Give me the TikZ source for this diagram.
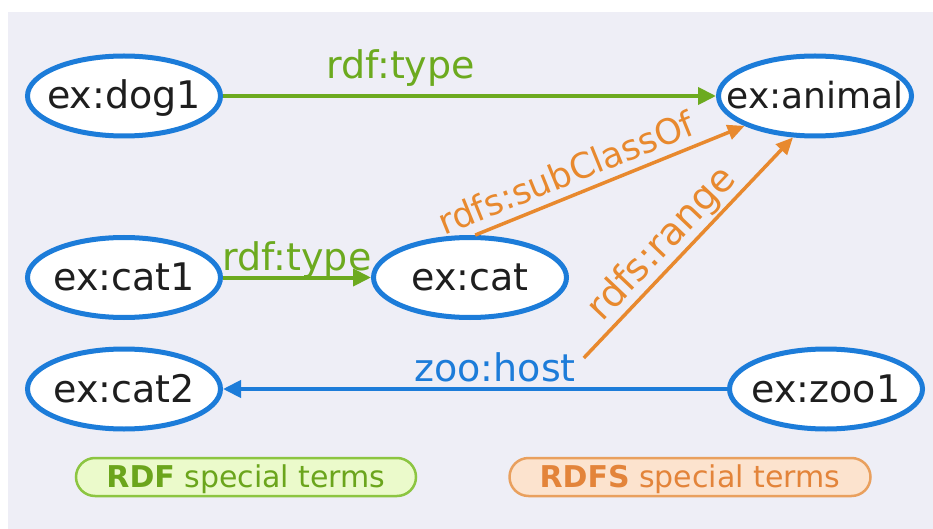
\documentclass[tikz,border=0pt]{standalone}
\usepackage{fontspec}
\setmainfont{DejaVu Sans}
\usetikzlibrary{shapes.geometric, arrows.meta, calc}
\definecolor{bgc}{HTML}{EEEEF6}
\definecolor{rdfblue}{HTML}{1C7CD9}
\definecolor{rdfgreen}{HTML}{6CAA1F}
\definecolor{rdfsorange}{HTML}{E8892E}
\definecolor{txt}{HTML}{1E1E1E}
\definecolor{gfill}{HTML}{EBFACB}
\definecolor{gline}{HTML}{8CC541}
\definecolor{gtext}{HTML}{6BA51C}
\definecolor{ofill}{HTML}{FCE3CE}
\definecolor{oline}{HTML}{E9A05E}
\definecolor{otext}{HTML}{E3843A}
\begin{document}
\begin{tikzpicture}[x=1pt,y=-1pt,
  ent/.style={ellipse, draw=rdfblue, line width=5pt, fill=white,
    minimum width=193pt, minimum height=80pt, inner sep=0pt,
    text height=26pt, text depth=0pt, text=txt,
    font=\fontsize{38}{44}\selectfont},
  lbl/.style={font=\fontsize{38}{44}\selectfont, anchor=south,
    text depth=0pt, inner ysep=#1, inner xsep=0pt},
  lbl/.default=5pt,
  greenarr/.style={draw=rdfgreen, line width=4pt,
    -{Triangle[length=18pt,width=17pt]}},
  orangearr/.style={draw=rdfsorange, line width=3.5pt,
    -{Triangle[length=17pt,width=15pt]}},
  bluearr/.style={draw=rdfblue, line width=4pt,
    -{Triangle[length=18pt,width=17pt]}},
  legbox/.style={rectangle, rounded corners=19pt, minimum height=38pt,
    line width=2.5pt, text height=21pt, text depth=0pt,
    font=\fontsize{30}{35}\selectfont}
]
\useasboundingbox (0,0) rectangle (933,529);
\fill[white] (0,0) rectangle (933,529);
\fill[bgc] (7.5,12) rectangle (933,529);

\node[ent] (dog1)   at (124,96)    {\makebox[0pt]{ex:dog1}};
\node[ent, font=\fontsize{36}{42}\selectfont] (animal) at (815,96) {\makebox[0pt]{ex:animal}};
\node[ent] (cat1)   at (124,277.5) {\makebox[0pt]{ex:cat1}};
\node[ent] (cat)    at (470,277.5) {\makebox[0pt]{ex:cat}};
\node[ent] (cat2)   at (124,389)   {\makebox[0pt]{ex:cat2}};
\node[ent] (zoo1)   at (826,389)   {\makebox[0pt]{ex:zoo1}};

\draw[greenarr] (dog1) -- node[lbl=15pt, pos=0.36, text=rdfgreen] (t1) {rdf:type} (animal);
\draw[greenarr] (cat1) -- node[lbl=5pt, pos=0.5, text=rdfgreen] (t2) {rdf:type} (cat);
\draw[orangearr] (cat.83) -- node[lbl=9pt, sloped, pos=0.37, text=rdfsorange,
  font=\fontsize{35}{42}\selectfont] (sub) {rdfs:subClassOf} (animal.203);
\draw[bluearr] (zoo1) -- node[lbl=6pt, pos=0.46, text=rdfblue] (host) {zoo:host} (cat2);
\draw[orangearr] ($(host.base east)+(6,-23)$) -- node[lbl=9pt, sloped, pos=0.45,
  text=rdfsorange] (rng) {rdfs:range} (animal.242);

\node[legbox, fill=gfill, draw=gline, text=gtext, minimum width=340pt]
  (rdfleg) at (246,477) {\textbf{RDF} special terms};
\node[legbox, fill=ofill, draw=oline, text=otext, minimum width=361pt]
  (rdfsleg) at (690,477) {\textbf{RDFS} special terms};
\end{tikzpicture}
\end{document}
